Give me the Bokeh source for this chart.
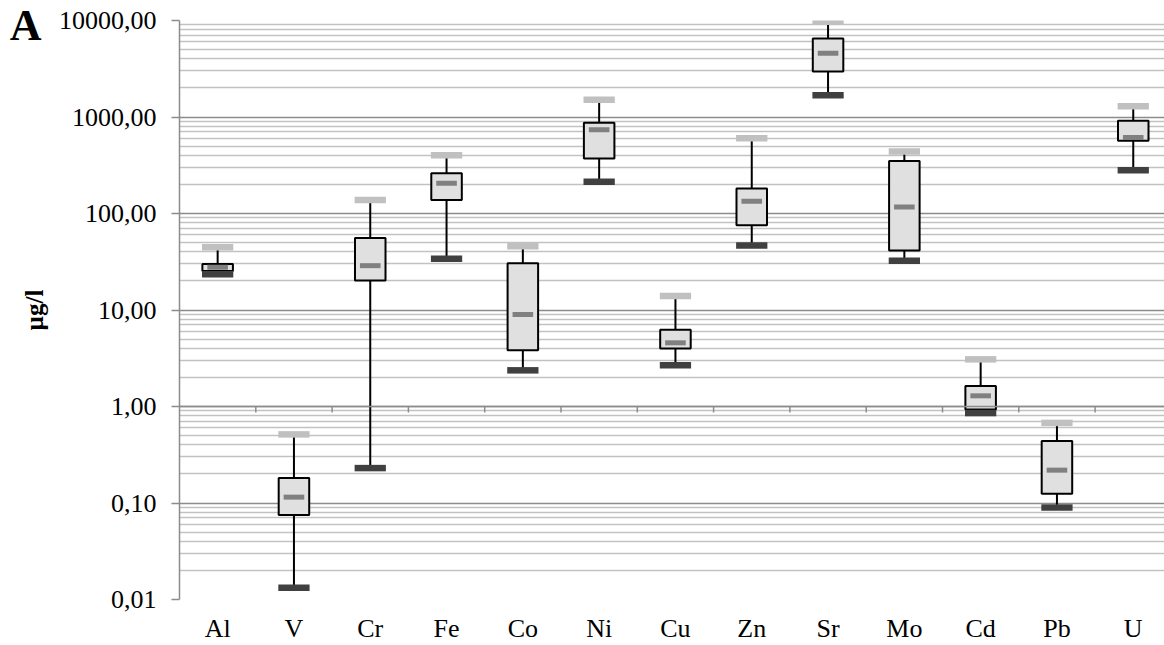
import math
from bokeh.plotting import figure
from bokeh.models import (Range1d, FixedTicker, CustomJSTickFormatter, Span,
                          ColumnDataSource, LogAxis)
from bokeh.embed import file_html
from bokeh.resources import INLINE

# ---- data (µg/l) ----
categories = ["Al", "V", "Cr", "Fe", "Co", "Ni", "Cu", "Zn", "Sr", "Mo", "Cd", "Pb", "U"]
minimum = [23.5, 0.0132, 0.23, 34.0, 2.37, 213, 2.67, 46.6, 1680, 32.4, 0.855, 0.0897, 280]
q1      = [25.4, 0.0753, 20.2, 138, 3.83, 372, 3.98, 75.4, 2965, 41.4, 0.93, 0.125, 566]
median  = [27.7, 0.115, 28.8, 206, 8.98, 738, 4.57, 134, 4570, 117, 1.29, 0.219, 612]
q3      = [30.0, 0.182, 55.6, 261, 30.5, 871, 6.25, 182, 6500, 351, 1.63, 0.44, 916]
maximum = [44.8, 0.514, 138, 402, 45.7, 1510, 14.0, 601, 9710, 440, 3.08, 0.676, 1291]

y_ticks = [0.01, 0.1, 1, 10, 100, 1000, 10000]
y_tick_labels = ["0,01", "0,10", "1,00", "10,00", "100,00", "1000,00", "10000,00"]
y_minor = [m * 10.0 ** k for k in range(-2, 4) for m in range(2, 10)]
panel_letter = "A"

FONT = "Liberation Serif"

x_pos = [i + 0.5 for i in range(len(categories))]
src = ColumnDataSource(dict(x=x_pos, cat=categories, mn=minimum, q1=q1, med=median,
                            q3=q3, mx=maximum))

p = figure(width=1164, height=645, y_axis_type="log",
           x_range=Range1d(0, 985 / 76.3), y_range=Range1d(0.01, 10000),
           output_backend="svg", toolbar_location=None,
           min_border_left=179, min_border_right=0, min_border_top=20,
           min_border_bottom=45)
p.outline_line_color = None
p.background_fill_color = "white"
p.border_fill_color = "white"

# grid
p.xgrid.visible = False
p.ygrid.ticker = FixedTicker(ticks=y_ticks, minor_ticks=y_minor)
p.ygrid.grid_line_color = "#8c8c8c"
p.ygrid.grid_line_width = 1.5
p.ygrid.minor_grid_line_color = "#c2c2c2"
p.ygrid.minor_grid_line_width = 1.5

# y axis
ya = p.yaxis[0]
ya.ticker = FixedTicker(ticks=y_ticks, minor_ticks=[])
ya.formatter = CustomJSTickFormatter(args=dict(yt=y_ticks, yl=y_tick_labels), code="""
    for (let i = 0; i < yt.length; i++) {
        if (Math.abs(yt[i] - tick) < 1e-9 * Math.max(1, tick)) return yl[i];
    }
    return tick.toFixed(2).replace('.', ',');
""")
ya.axis_line_color = "#8c8c8c"
ya.axis_line_width = 1.5
ya.major_tick_line_color = "#8c8c8c"
ya.major_tick_line_width = 1.5
ya.major_tick_out = 8
ya.major_tick_in = 0
ya.minor_tick_line_color = None
ya.major_label_text_font = FONT
ya.major_label_text_font_size = "26px"
ya.major_label_text_color = "black"
ya.major_label_standoff = 15
ya.axis_label = "µg/l"
ya.axis_label_text_font = FONT
ya.axis_label_text_font_size = "25px"
ya.axis_label_text_font_style = "bold"
ya.axis_label_text_color = "black"
ya.axis_label_standoff = 8

# outer left axis that only carries the panel letter near the top-left corner
letter_tick = 10 ** (4 - 5.5 / 96.67)
la = LogAxis(ticker=FixedTicker(ticks=[letter_tick], minor_ticks=[]),
             formatter=CustomJSTickFormatter(args=dict(t=panel_letter), code="return t;"))
la.axis_line_color = None
la.major_tick_line_color = None
la.minor_tick_line_color = None
la.major_tick_out = 0
la.major_tick_in = 0
la.major_label_standoff = -24
la.major_label_text_font = FONT
la.major_label_text_font_size = "44px"
la.major_label_text_font_style = "bold"
la.major_label_text_color = "black"
p.add_layout(la, "left")

# x axis (labels only, at bottom)
xa = p.xaxis[0]
xa.ticker = FixedTicker(ticks=x_pos)
xa.formatter = CustomJSTickFormatter(args=dict(cats=categories), code="""
    return cats[Math.floor(tick)];
""")
xa.axis_line_color = None
xa.major_tick_line_color = None
xa.minor_tick_line_color = None
xa.major_tick_out = 0
xa.major_label_text_font = FONT
xa.major_label_text_font_size = "26px"
xa.major_label_text_color = "black"
xa.major_label_standoff = 14

# horizontal category axis crossing at 1
p.add_layout(Span(location=1, dimension="width", line_color="#8c8c8c", line_width=1.5))
bounds = list(range(1, len(categories) + 1))
p.ray(x=bounds, y=[1] * len(bounds), length=6, length_units="screen",
      angle=-math.pi / 2, line_color="#8c8c8c", line_width=1.5)

# whiskers
p.segment(x0="x", y0="mn", x1="x", y1="mx", source=src, line_color="black", line_width=2)
# boxes
p.vbar(x="x", width=0.4, bottom="q1", top="q3", source=src,
       fill_color="#e0e0e0", line_color="black", line_width=2)
# markers
p.rect(x="x", y="mx", width=0.41, height=6.5, height_units="screen", source=src,
       fill_color="#c0c0c0", line_color=None)
p.rect(x="x", y="mn", width=0.41, height=6.5, height_units="screen", source=src,
       fill_color="#404040", line_color=None)
p.rect(x="x", y="med", width=0.27, height=5, height_units="screen", source=src,
       fill_color="#808080", line_color=None)

open("out.html", "w").write(file_html(p, INLINE))
